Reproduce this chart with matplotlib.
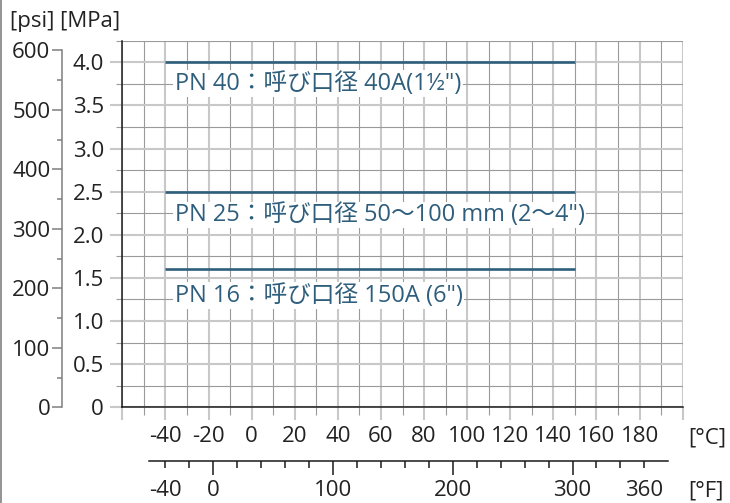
import matplotlib
matplotlib.use("Agg")
import matplotlib.pyplot as plt
from matplotlib.lines import Line2D

plt.rcParams['font.family'] = ['Open Sans', 'Noto Sans CJK JP', 'DejaVu Sans']

# ---- chart data -------------------------------------------------------
# temperature axis, degrees Celsius
temp_c_range = (-60, 200)
temp_c_major = list(range(-60, 201, 20))
temp_c_minor = list(range(-50, 200, 20))
temp_c_labels = [-40, -20, 0, 20, 40, 60, 80, 100, 120, 140, 160, 180]

# temperature axis, degrees Fahrenheit
temp_f_major = [0, 100, 200, 300]
temp_f_minor = list(range(-40, 361, 20))
temp_f_labels = [-40, 0, 100, 200, 300, 360]

# pressure axes
mpa_max = 4.25
mpa_major = [0, 0.5, 1.0, 1.5, 2.0, 2.5, 3.0, 3.5, 4.0]
mpa_major_text = ["0", "0.5", "1.0", "1.5", "2.0", "2.5", "3.0", "3.5", "4.0"]
mpa_minor = [0.25, 0.75, 1.25, 1.75, 2.25, 2.75, 3.25, 3.75, 4.25]
psi_major = [0, 100, 200, 300, 400, 500, 600]
psi_minor = [50, 150, 250, 350, 450, 550]
PSI_PER_MPA = 145.038

# pressure ratings
rating_names = [
    "PN 40：呼び口径 40A(1½\")",
    "PN 25：呼び口径 50～100 mm (2～4\")",
    "PN 16：呼び口径 150A (6\")",
]
rating_mpa = [4.0, 2.5, 1.6]
rating_t_min = [-40, -40, -40]
rating_t_max = [150, 150, 150]

# ---- styling -----------------------------------------------------------
W, H = 730, 503
GRID_MAJOR = "#c8c8c8"
GRID_MINOR = "#9a9a9a"
RATING_COLOR = "#2e5e7c"
TEXT_COLOR = "#222222"
PSI_COLOR = "#7f7f7f"
FS = 16
FS_NOTE = 17

# label placement below each rating line (MPa offset) and left inset (°C)
label_drop = [0.25, 0.27, 0.305]
label_inset = 4.4

fig = plt.figure(figsize=(W / 100, H / 100), dpi=100)


def fx(px):
    return px / W


def fy(py):
    return 1 - py / H


ax_left, ax_right, ax_top, ax_bottom = 122.3, 682.7, 40.7, 407.3
ax = fig.add_axes([fx(ax_left), fy(ax_bottom), fx(ax_right - ax_left),
                   (ax_bottom - ax_top) / H])
ax.set_xlim(*temp_c_range)
ax.set_ylim(0, mpa_max)
ax.set_axisbelow(True)

ax.set_xticks(temp_c_major,
              labels=[str(v) if v in temp_c_labels else "" for v in temp_c_major])
ax.set_xticks(temp_c_minor, minor=True)
ax.set_yticks(mpa_major, labels=mpa_major_text)
ax.set_yticks(mpa_minor, minor=True)

ax.grid(which="major", color=GRID_MAJOR, lw=1.5)
ax.grid(which="minor", color=GRID_MINOR, lw=0.8)

ax.tick_params(axis="x", which="major", direction="out", length=9.4, width=1.5,
               color=GRID_MAJOR, pad=4.2, labelsize=FS, labelcolor=TEXT_COLOR)
ax.tick_params(axis="x", which="minor", direction="out", length=5.8, width=0.8,
               color=GRID_MINOR)
ax.tick_params(axis="y", which="major", direction="out", length=8.6, width=1.5,
               color=GRID_MAJOR, pad=4.5, labelsize=FS, labelcolor=TEXT_COLOR)
ax.tick_params(axis="y", which="minor", direction="out", length=4.3, width=0.8,
               color=GRID_MINOR)

for side in ("top", "right"):
    ax.spines[side].set_visible(False)
for side in ("left", "bottom"):
    ax.spines[side].set_color("#1a1a1a")
    ax.spines[side].set_linewidth(1.1)
    ax.spines[side].set_zorder(2.5)

ax.hlines(rating_mpa, rating_t_min, rating_t_max, color=RATING_COLOR, lw=1.9,
          zorder=3)
for name, p, t0, drop in zip(rating_names, rating_mpa, rating_t_min, label_drop):
    ax.text(t0 + label_inset, p - drop, name, ha="left", va="center",
            fontsize=FS_NOTE, color=RATING_COLOR, zorder=4,
            bbox=dict(facecolor="white", edgecolor="none", pad=1.0))

# psi scale, drawn as its own axis left of the MPa labels
ax_psi = fig.add_axes([fx(61.7), fy(ax_bottom), 1e-4, (ax_bottom - ax_top) / H])
ax_psi.set_ylim(0, mpa_max * PSI_PER_MPA)
ax_psi.patch.set_visible(False)
for side in ("top", "right", "bottom"):
    ax_psi.spines[side].set_visible(False)
ax_psi.spines["left"].set_color(PSI_COLOR)
ax_psi.spines["left"].set_linewidth(1.1)
ax_psi.spines["left"].set_bounds(psi_major[0], psi_major[-1])
ax_psi.set_xticks([])
ax_psi.set_yticks(psi_major, labels=[str(v) for v in psi_major])
ax_psi.set_yticks(psi_minor, minor=True)
ax_psi.tick_params(axis="y", which="major", length=7.2, width=1.1,
                   color=PSI_COLOR, pad=1.0, labelsize=FS, labelcolor=TEXT_COLOR)
ax_psi.tick_params(axis="y", which="minor", length=3.6, width=1.1,
                   color=PSI_COLOR)

# Fahrenheit scale below the Celsius labels
f_lo = temp_c_range[0] * 9 / 5 + 32
f_hi = temp_c_range[1] * 9 / 5 + 32
ax_f = fig.add_axes([fx(ax_left), fy(460.7), fx(ax_right - ax_left), 1e-4])
ax_f.set_xlim(f_lo, f_hi)
ax_f.patch.set_visible(False)
for side in ("top", "right", "left"):
    ax_f.spines[side].set_visible(False)
ax_f.spines["bottom"].set_color("#1a1a1a")
ax_f.spines["bottom"].set_linewidth(1.1)
ax_f.spines["bottom"].set_bounds(-54, 380)
ax_f.set_yticks([])
ax_f.set_xticks(temp_f_major, labels=[str(v) for v in temp_f_major])
ax_f.set_xticks(temp_f_minor,
                labels=[str(v) if v in temp_f_labels and v not in temp_f_major
                        else "" for v in temp_f_minor], minor=True)
ax_f.tick_params(axis="x", which="major", length=10, width=1.1, color="#1a1a1a",
                 pad=4.2, labelsize=FS, labelcolor=TEXT_COLOR)
ax_f.tick_params(axis="x", which="minor", length=5, width=1.1, color="#1a1a1a",
                 pad=9.2, labelsize=FS, labelcolor=TEXT_COLOR)

# unit captions
fig.text(fx(10), fy(21), "[psi] [MPa]", ha="left", va="center", fontsize=FS,
         color=TEXT_COLOR)
fig.text(fx(688), fy(438), "[°C]", ha="left", va="center", fontsize=FS,
         color=TEXT_COLOR)
fig.text(fx(688), fy(491), "[°F]", ha="left", va="center", fontsize=FS,
         color=TEXT_COLOR)

# thin frame line on the left edge
fig.add_artist(Line2D([fx(0.8), fx(0.8)], [0, 1], color="#808080", lw=1.2,
                      transform=fig.transFigure))

fig.savefig("out.png", dpi=100)
